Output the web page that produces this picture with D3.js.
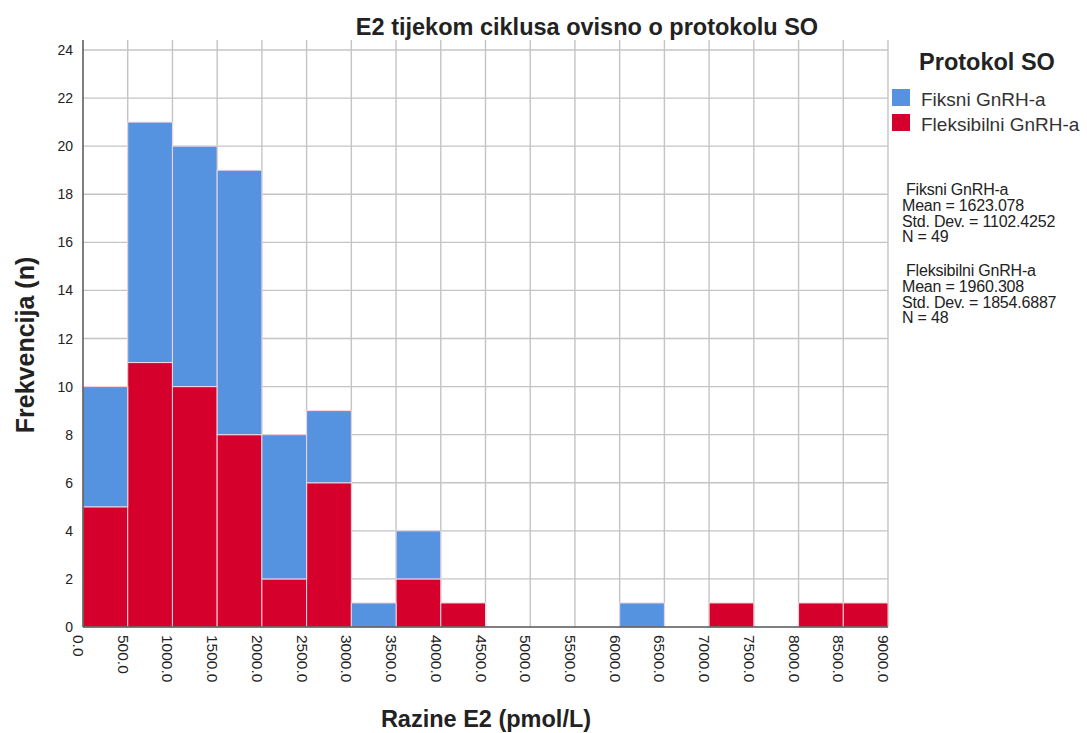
<!DOCTYPE html>
<html>
<head>
<script src="https://cdn.jsdelivr.net/npm/d3@7"></script>
<style>
	body { margin: 0; background: #fff; }
	text { font-family: "Liberation Sans", Arial, sans-serif; }
</style>
</head>
<body>
<div id="chart"></div>
<script>
	// bin edges (pmol/L), 500 wide
	var binStarts = [0, 500, 1000, 1500, 2000, 2500, 3000, 3500, 4000, 4500, 5000, 5500, 6000, 6500, 7000, 7500, 8000, 8500];
	var fiksni = [5, 10, 10, 11, 6, 3, 1, 2, 0, 0, 0, 0, 1, 0, 0, 0, 0, 0];
	var fleksibilni = [5, 11, 10, 8, 2, 6, 0, 2, 1, 0, 0, 0, 0, 0, 1, 0, 1, 1];
	var xTicks = d3.range(0, 9001, 500);
	var yTicks = [0, 2, 4, 6, 8, 10, 12, 14, 16, 18, 20, 22, 24];
	var seriesNames = ["Fiksni GnRH-a", "Fleksibilni GnRH-a"];
	var seriesColors = ["#5592e0", "#d5002b"];
	var stats = [
		["Fiksni GnRH-a", "Mean = 1623.078", "Std. Dev. = 1102.4252", "N = 49"],
		["Fleksibilni GnRH-a", "Mean = 1960.308", "Std. Dev. = 1854.6887", "N = 48"]
	];

	var width = 1087, height = 733;
	var plotL = 83, plotR = 888, plotT = 50, plotB = 627;

	var svg = d3.select("#chart").append("svg")
		.attr("width", width)
		.attr("height", height);

	var x = d3.scaleLinear().domain([0, 9000]).range([plotL, plotR]);
	var y = d3.scaleLinear().domain([0, 24]).range([plotB, plotT]);

	// grid
	svg.append("g").selectAll("line")
		.data(xTicks.slice(1))
		.enter().append("line")
		.attr("x1", function(d) { return x(d); })
		.attr("x2", function(d) { return x(d); })
		.attr("y1", plotT - 10)
		.attr("y2", plotB)
		.attr("stroke", "#c4c4c4")
		.attr("stroke-width", 1.4);

	svg.append("g").selectAll("line")
		.data(yTicks.slice(1))
		.enter().append("line")
		.attr("x1", plotL)
		.attr("x2", plotR)
		.attr("y1", function(d) { return y(d); })
		.attr("y2", function(d) { return y(d); })
		.attr("stroke", "#c4c4c4")
		.attr("stroke-width", 1.4);

	// stacked bars, red at the bottom
	var rows = binStarts.map(function(b, i) {
		return { start: b, fleks: fleksibilni[i], fiks: fiksni[i] };
	});
	var stack = d3.stack().keys(["fleks", "fiks"]);
	var layers = stack(rows);
	var layerColor = { fleks: seriesColors[1], fiks: seriesColors[0] };

	svg.append("g").selectAll("g")
		.data(layers)
		.enter().append("g")
		.attr("fill", function(d) { return layerColor[d.key]; })
		.selectAll("rect")
		.data(function(d) { return d.filter(function(p) { return p[1] > p[0]; }); })
		.enter().append("rect")
		.attr("x", function(d) { return x(d.data.start); })
		.attr("width", function(d) { return x(d.data.start + 500) - x(d.data.start); })
		.attr("y", function(d) { return y(d[1]); })
		.attr("height", function(d) { return y(d[0]) - y(d[1]); })
		.attr("stroke", "#f3d6dc")
		.attr("stroke-width", 1);

	// axes lines
	svg.append("line")
		.attr("x1", plotL).attr("x2", plotL)
		.attr("y1", plotT - 10).attr("y2", plotB)
		.attr("stroke", "#555").attr("stroke-width", 1.5);
	svg.append("line")
		.attr("x1", plotL).attr("x2", plotR)
		.attr("y1", plotB).attr("y2", plotB)
		.attr("stroke", "#555").attr("stroke-width", 1.5);

	// y tick labels
	svg.append("g").selectAll("text")
		.data(yTicks)
		.enter().append("text")
		.attr("x", plotL - 10)
		.attr("y", function(d) { return y(d) + 5; })
		.attr("text-anchor", "end")
		.attr("font-size", 14)
		.attr("fill", "#222")
		.text(function(d) { return d; });

	// x tick labels, rotated
	svg.append("g").selectAll("text")
		.data(xTicks)
		.enter().append("text")
		.attr("transform", function(d) { return "translate(" + (x(d) - 10) + "," + (plotB + 8) + ") rotate(90)"; })
		.attr("font-size", 15.5)
		.attr("fill", "#222")
		.text(function(d) { return d3.format(".1f")(d); });

	// title and axis labels
	svg.append("text")
		.attr("x", 587).attr("y", 35)
		.attr("text-anchor", "middle")
		.attr("font-size", 23.5).attr("font-weight", "bold")
		.attr("fill", "#222")
		.text("E2 tijekom ciklusa ovisno o protokolu SO");

	svg.append("text")
		.attr("x", 486).attr("y", 727)
		.attr("text-anchor", "middle")
		.attr("font-size", 23.5).attr("font-weight", "bold")
		.attr("fill", "#222")
		.text("Razine E2 (pmol/L)");

	svg.append("text")
		.attr("transform", "translate(34,345) rotate(-90)")
		.attr("text-anchor", "middle")
		.attr("font-size", 25).attr("font-weight", "bold")
		.attr("fill", "#222")
		.text("Frekvencija (n)");

	// legend
	var legend = svg.append("g");
	legend.append("text")
		.attr("x", 987).attr("y", 70)
		.attr("text-anchor", "middle")
		.attr("font-size", 23.5).attr("font-weight", "bold")
		.attr("fill", "#222")
		.text("Protokol SO");

	var item = legend.selectAll("g.item")
		.data(seriesNames)
		.enter().append("g")
		.attr("class", "item")
		.attr("transform", function(d, i) { return "translate(892," + (89 + i * 25) + ")"; });
	item.append("rect")
		.attr("width", 18).attr("height", 17)
		.attr("fill", function(d, i) { return seriesColors[i]; });
	item.append("text")
		.attr("x", 29).attr("y", 17)
		.attr("font-size", 19)
		.attr("fill", "#333")
		.text(function(d) { return d; });

	var statG = legend.selectAll("g.stat")
		.data(stats)
		.enter().append("g")
		.attr("class", "stat")
		.attr("transform", function(d, i) { return "translate(902," + (195 + i * 81) + ")"; });
	statG.selectAll("text")
		.data(function(d) { return d; })
		.enter().append("text")
		.attr("x", function(d, i) { return i === 0 ? 4 : 0; })
		.attr("y", function(d, i) { return i * 15.8; })
		.attr("font-size", 16)
		.attr("letter-spacing", -0.2)
		.attr("fill", "#222")
		.text(function(d) { return d; });
</script>
</body>
</html>
